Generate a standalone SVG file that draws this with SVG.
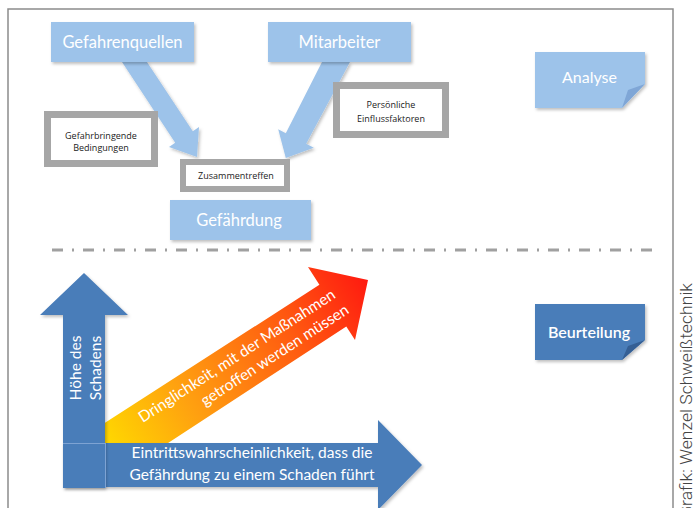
<svg xmlns="http://www.w3.org/2000/svg" width="694" height="508" viewBox="0 0 694 508">
<defs>
<style>
.lb{fill:#9dc3ea;}
.db{fill:#4a7db9;}
.gb{fill:#ffffff;stroke:#a6a6a6;}
.wt{font-family:Lato,"Open Sans",sans-serif;fill:#ffffff;text-anchor:middle;}
.sm{font-family:"Open Sans",Lato,sans-serif;font-size:9px;fill:#222222;text-anchor:middle;}
.fold{fill:#7fa6d6;}
.fold2{fill:#355f94;}
</style>
<filter id="sh" x="-10%" y="-10%" width="130%" height="140%">
<feDropShadow dx="1.5" dy="2" stdDeviation="1.5" flood-color="#000" flood-opacity="0.25"/>
</filter>
<linearGradient id="hot" x1="106" y1="443" x2="368" y2="280" gradientUnits="userSpaceOnUse">
<stop offset="0" stop-color="#ffd800"/>
<stop offset="0.3" stop-color="#ffa010"/>
<stop offset="0.7" stop-color="#ff5a10"/>
<stop offset="1" stop-color="#ff1a10"/>
</linearGradient>
</defs>
<rect x="0" y="0" width="694" height="508" fill="#ffffff"/>
<path d="M8,508 V9 H673 V508" fill="none" stroke="#8c8c8c" stroke-width="1.5"/>

<g id="connectors">
<polygon class="lb" filter="url(#sh)" points="122,62 147,62 192.8,131.2 199,127 197,157 169,147 175.2,142.8"/>
<polygon class="lb" filter="url(#sh)" points="322,62 350,62 306.2,143.8 313.8,147.8 285.8,158 278.2,129.2 285.8,133.2"/>
</g>

<g id="gefahrenquellen">
<rect class="lb" filter="url(#sh)" x="51" y="22" width="143" height="40"/>
<text class="wt" x="122.5" y="48" font-size="16.5">Gefahrenquellen</text>
</g>
<g id="mitarbeiter">
<rect class="lb" filter="url(#sh)" x="268" y="22" width="143" height="40"/>
<text class="wt" x="339.5" y="48" font-size="16.5">Mitarbeiter</text>
</g>
<g id="gefahrbringende">
<rect class="gb" x="47.5" y="114.5" width="107" height="49" stroke-width="7"/>
<text class="sm" x="101" y="138.5">Gefahrbringende</text>
<text class="sm" x="101" y="151">Bedingungen</text>
</g>
<g id="persoenliche">
<rect class="gb" x="336.5" y="85.5" width="109" height="49" stroke-width="7"/>
<text class="sm" x="391" y="107.5">Persönliche</text>
<text class="sm" x="391" y="121.5">Einflussfaktoren</text>
</g>
<g id="zusammentreffen">
<rect class="gb" x="183" y="162" width="104" height="27" stroke-width="6"/>
<text class="sm" x="236" y="179">Zusammentreffen</text>
</g>
<g id="gefaehrdung">
<rect class="lb" filter="url(#sh)" x="170" y="200" width="141" height="40"/>
<text class="wt" x="239" y="225.5" font-size="16.5">Gefährdung</text>
</g>
<g id="analyse">
<path class="lb" filter="url(#sh)" d="M535,52 H645 V84 L622,108 H535 Z"/>
<path class="fold" d="M645,84 L628,90 L622,108 Z"/>
<text class="wt" x="589.5" y="83" font-size="16">Analyse</text>
</g>

<line x1="52" y1="250" x2="656" y2="250" stroke="#a0a0a0" stroke-width="3" stroke-dasharray="11,9,2,9"/>

<g id="beurteilung">
<path class="db" filter="url(#sh)" d="M535,304 H645 V340 L622,360 H535 Z"/>
<path class="fold2" d="M645,340 L628,346 L622,360 Z"/>
<text class="wt" x="589" y="337.5" font-size="16" font-weight="600">Beurteilung</text>
</g>

<g id="dringlichkeit">
<polygon fill="url(#hot)" points="100,426 319.4,284.8 308,267 368,280 355,340 346.3,326.5 165,445 100,445"/>
<g transform="translate(237,356) rotate(-33)">
<text class="wt" x="0" y="5" font-size="15.5">Dringlichkeit, mit der Maßnahmen</text>
<text class="wt" x="32" y="25" font-size="15.5">getroffen werden müssen</text>
</g>
</g>

<g id="eintritt">
<polygon class="db" filter="url(#sh)" points="63,443 378,443 378,420 422,465 378,510 378,487 63,487"/>
<text class="wt" x="252" y="458" font-size="15.5">Eintrittswahrscheinlichkeit, dass die</text>
<text class="wt" x="252" y="480" font-size="15.5">Gefährdung zu einem Schaden führt</text>
</g>
<g id="hoehe">
<polygon class="db" filter="url(#sh)" points="63,488 63,315 40,315 84,273 128,315 105,315 105,488"/>
<line x1="105.5" y1="443" x2="105.5" y2="488" stroke="#7ea3d3" stroke-width="1"/>
<line x1="63" y1="443.5" x2="105" y2="443.5" stroke="#7ea3d3" stroke-width="1"/>
<text class="wt" transform="translate(77,368) rotate(-90)" x="0" y="0" font-size="15.5" dominant-baseline="middle">Höhe des</text>
<text class="wt" transform="translate(97,368) rotate(-90)" x="0" y="0" font-size="15.5" dominant-baseline="middle">Schadens</text>
</g>

<text transform="translate(692,518) rotate(-90)" x="0" y="0" font-family="Roboto,'Liberation Sans',sans-serif" font-weight="300" font-size="16" fill="#444444" textLength="235" lengthAdjust="spacingAndGlyphs">Grafik: Wenzel Schweißtechnik</text>
</svg>
